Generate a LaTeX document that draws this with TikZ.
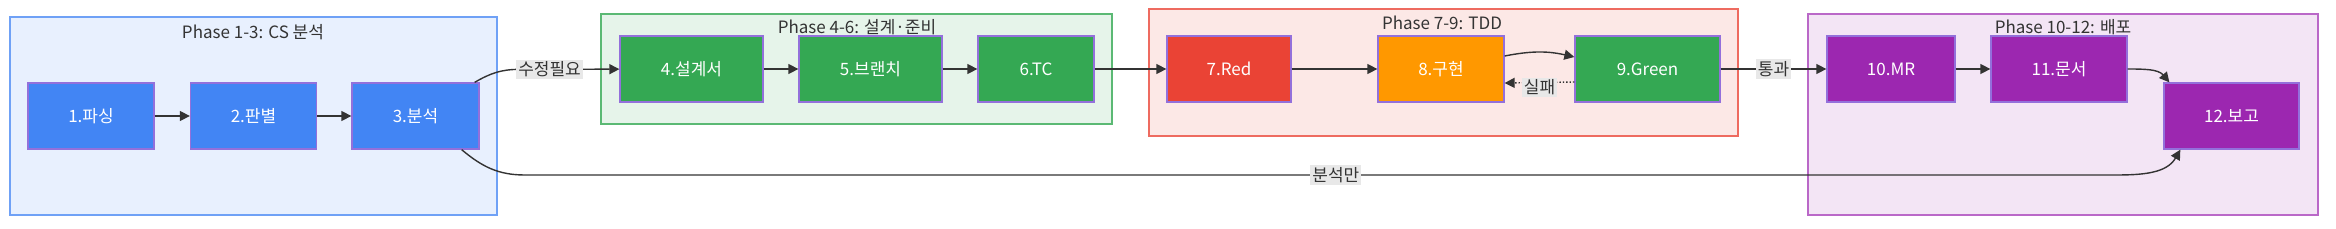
\documentclass[tikz,border=0pt]{standalone}
\usepackage{fontspec}
\setmainfont{Noto Sans CJK KR}
\usepackage{xcolor}
\usetikzlibrary{arrows.meta,positioning,calc}
\definecolor{Ink}{HTML}{333333}
\definecolor{Stroke}{HTML}{9370DB}
\definecolor{LabelGray}{HTML}{E8E8E8}
\definecolor{GBlue}{HTML}{4285F4}
\definecolor{GBlueBg}{HTML}{E8F0FE}
\definecolor{GBlueLine}{HTML}{6FA1F6}
\definecolor{GGreen}{HTML}{34A853}
\definecolor{GGreenBg}{HTML}{E6F4EA}
\definecolor{GGreenLine}{HTML}{5BB974}
\definecolor{GRed}{HTML}{EA4335}
\definecolor{GRedBg}{HTML}{FCE8E6}
\definecolor{GRedLine}{HTML}{EE6B60}
\definecolor{GOrange}{HTML}{FF9800}
\definecolor{GPurple}{HTML}{9C27B0}
\definecolor{GPurpleBg}{HTML}{F3E5F5}
\definecolor{GPurpleLine}{HTML}{BA68C8}

\begin{document}
\begin{tikzpicture}[
    x=1pt, y=-1pt,
    font=\fontsize{17pt}{20pt}\selectfont,
    phase/.style={draw, line width=1.5pt, inner sep=0pt},
    title/.style={text=Ink, inner sep=1pt},
    stepbox/.style={draw=Stroke, line width=1.3pt, text=white, minimum height=66pt, inner sep=0pt},
    lbl/.style={fill=LabelGray, text=Ink, inner sep=2pt},
    arrow/.style={-{Triangle[length=10pt,width=10pt]}, line width=1.4pt, draw=Ink}
  ]
    \useasboundingbox (0,0) rectangle (2336,228);

    % phase boxes
    \node[phase, fill=GBlueBg, draw=GBlueLine, minimum width=487pt, minimum height=198pt] (ph1) at (253.5,116) {};
    \node[phase, fill=GGreenBg, draw=GGreenLine, minimum width=511pt, minimum height=110pt] (ph2) at (856.5,69) {};
    \node[phase, fill=GRedBg, draw=GRedLine, minimum width=589pt, minimum height=127pt] (ph3) at (1443.5,72.5) {};
    \node[phase, fill=GPurpleBg, draw=GPurpleLine, minimum width=510pt, minimum height=201pt] (ph4) at (2063,114.5) {};

    \node[title] (t1) at (253,32) {Phase 1-3: CS 분석};
    \node[title] (t2) at (857,27) {Phase 4-6: 설계·준비};
    \node[title] (t3) at (1442,23) {Phase 7-9: TDD};
    \node[title] (t4) at (2063,27) {Phase 10-12: 배포};

    % steps
    \node[stepbox, fill=GBlue, minimum width=126pt] (n1) at (91,116) {1.파싱};
    \node[stepbox, fill=GBlue, minimum width=126pt] (n2) at (253.5,116) {2.판별};
    \node[stepbox, fill=GBlue, minimum width=127pt] (n3) at (415.5,116) {3.분석};
    \node[stepbox, fill=GGreen, minimum width=143pt] (n4) at (691.5,69) {4.설계서};
    \node[stepbox, fill=GGreen, minimum width=143pt] (n5) at (870.5,69) {5.브랜치};
    \node[stepbox, fill=GGreen, minimum width=116pt] (n6) at (1036,69) {6.TC};
    \node[stepbox, fill=GRed, minimum width=124pt] (n7) at (1229,69) {7.Red};
    \node[stepbox, fill=GOrange, minimum width=126pt] (n8) at (1441,69) {8.구현};
    \node[stepbox, fill=GGreen, minimum width=145pt] (n9) at (1647.5,69) {9.Green};
    \node[stepbox, fill=GPurple, minimum width=128pt] (n10) at (1891,69) {10.MR};
    \node[stepbox, fill=GPurple, minimum width=136pt] (n11) at (2059,69) {11.문서};
    \node[stepbox, fill=GPurple, minimum width=135pt] (n12) at (2231.5,116) {12.보고};

    \coordinate (b1) at (525,175);
    \coordinate (b2) at (2115,175);

    \draw[arrow] (n1) -- (n2);
    \draw[arrow] (n2) -- (n3);
    \draw[arrow] ([xshift=-5pt]n3.north east) to[out=30,in=180] ++(45,-13)
      -- node[lbl, pos=0.3] {수정필요} (n4);
    \draw[arrow] (n4) -- (n5);
    \draw[arrow] (n5) -- (n6);
    \draw[arrow] (n6) -- (n7);
    \draw[arrow] (n7) -- (n8);
    \draw[arrow] ([yshift=13pt]n8.east) to[bend left=12] ([yshift=12pt]n9.west);
    \draw[arrow, dotted] ([yshift=-13pt]n9.west) -- node[lbl, yshift=-5pt] {실패} ([yshift=-14pt]n8.east);
    \draw[arrow] (n9) -- node[lbl] {통과} (n10);
    \draw[arrow] (n10) -- (n11);
    \draw[arrow] (n11.east) to[out=0,in=130] ([xshift=6pt]n12.north west);
    \draw[arrow] ([xshift=-18pt]n3.south east) to[out=-40,in=180] (b1)
      -- node[lbl, pos=0.51] {분석만} (b2) to[out=0,in=-120] ([xshift=17pt]n12.south west);
  \end{tikzpicture}
\end{document}
